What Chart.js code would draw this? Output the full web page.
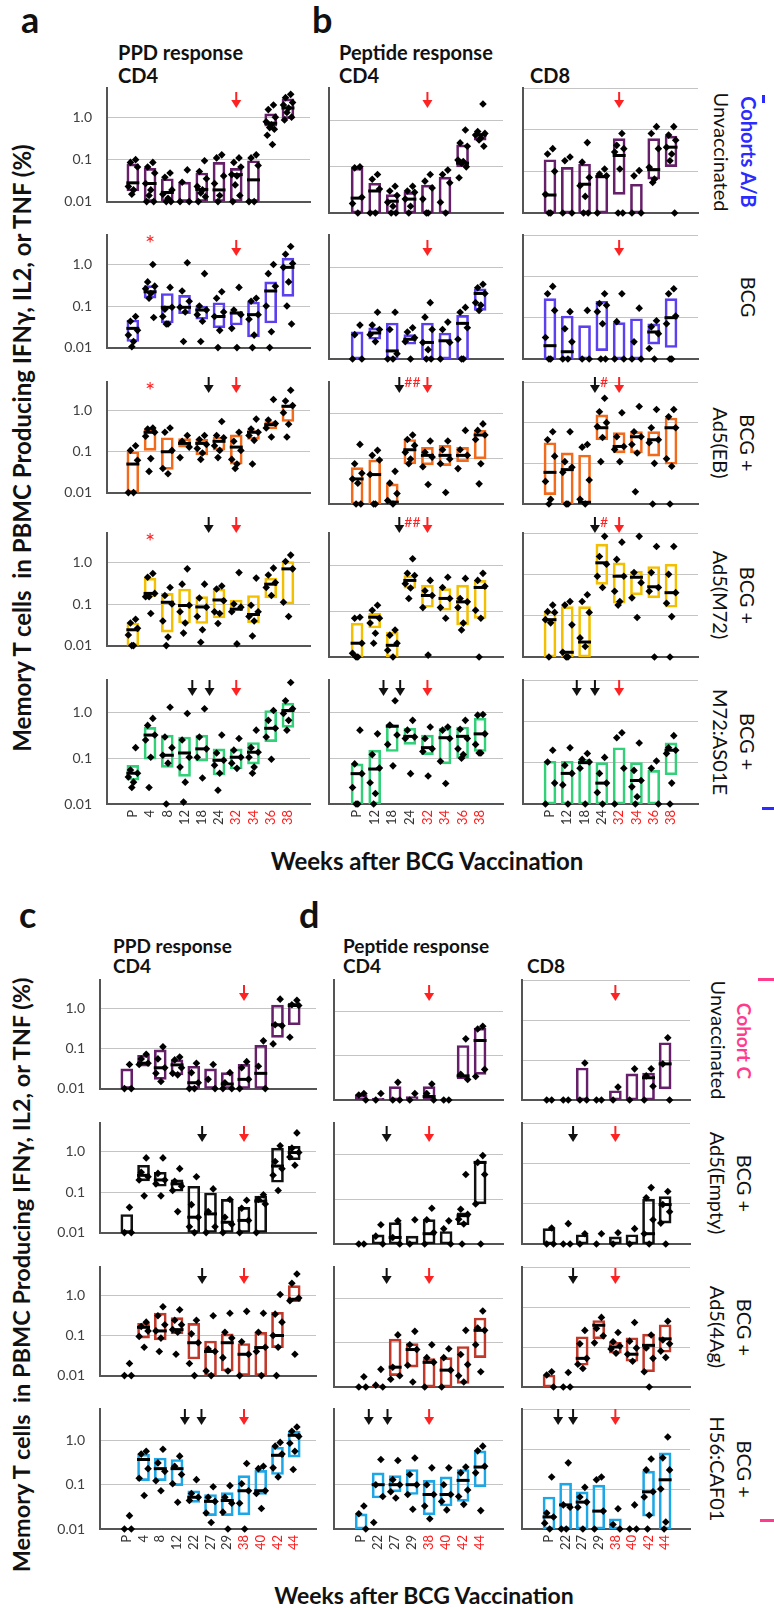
<!DOCTYPE html>
<html>
<head>
<meta charset="utf-8">
<script src="https://cdn.jsdelivr.net/npm/chart.js"></script>
<style>
  body { margin:0; width:774px; height:1608px; position:relative; background:#fff; overflow:hidden; font-family:Lato, sans-serif; color:#111; }
  canvas { position:absolute; }
  .t { position:absolute; white-space:pre; line-height:1; font-weight:bold; }
  .v { position:absolute; writing-mode:vertical-rl; white-space:nowrap; line-height:27px; font-size:20px; text-align:center; transform:translate(-50%,-50%); }
  .c { position:absolute; white-space:pre; line-height:1; font-weight:bold; transform:translate(-50%,-50%); }
  .r { transform:translate(-50%,-50%) rotate(-90deg); }
  .bar { position:absolute; }
</style>
</head>
<body>
<div class="t" style="left:21px;top:1px;font-size:36px">a</div>
<div class="t" style="left:312px;top:1px;font-size:36px">b</div>
<div class="t" style="left:118px;top:42px;font-size:20px">PPD response</div>
<div class="t" style="left:118px;top:65px;font-size:20px">CD4</div>
<div class="t" style="left:339px;top:42px;font-size:20px">Peptide response</div>
<div class="t" style="left:339px;top:65px;font-size:20px">CD4</div>
<div class="t" style="left:530px;top:65px;font-size:20px">CD8</div>

<div class="t" style="left:19px;top:896px;font-size:36px">c</div>
<div class="t" style="left:299px;top:896px;font-size:36px">d</div>
<div class="t" style="left:113px;top:936px;font-size:19px">PPD response</div>
<div class="t" style="left:113px;top:956px;font-size:19px">CD4</div>
<div class="t" style="left:343px;top:936px;font-size:19px">Peptide response</div>
<div class="t" style="left:343px;top:956px;font-size:19px">CD4</div>
<div class="t" style="left:527px;top:956px;font-size:19px">CD8</div>

<div class="c r" style="left:22px;top:448px;font-size:24px">Memory T cells  in PBMC Producing IFNγ, IL2, or TNF (%)</div>
<div class="c r" style="left:22px;top:1275px;font-size:23.5px">Memory T cells  in PBMC Producing IFNγ, IL2, or TNF (%)</div>
<div class="c" style="left:427px;top:861px;font-size:24px">Weeks after BCG Vaccination</div>
<div class="c" style="left:424px;top:1595px;font-size:23px">Weeks after BCG Vaccination</div>

<div class="v" style="left:721px;top:152px">Unvaccinated</div>
<div class="v" style="left:748px;top:152px;color:#2b2bff;font-weight:bold">Cohorts A/B</div>
<div class="v" style="left:748px;top:297px">BCG</div>
<div class="v" style="left:734px;top:443px">BCG +<br>Ad5(EB)</div>
<div class="v" style="left:734px;top:595px">BCG +<br>Ad5(M72)</div>
<div class="v" style="left:734px;top:742px">BCG +<br>M72:AS01E</div>

<div class="v" style="left:718px;top:1040px">Unvaccinated</div>
<div class="v" style="left:744px;top:1041px;color:#ff3b8d;font-weight:bold;font-size:19px">Cohort C</div>
<div class="v" style="left:731px;top:1183px">BCG +<br>Ad5(Empty)</div>
<div class="v" style="left:731px;top:1327px">BCG +<br>Ad5(4Ag)</div>
<div class="v" style="left:731px;top:1469px">BCG +<br>H56:CAF01</div>

<div class="bar" style="left:762px;top:95px;width:3px;height:8px;background:#2b2bff"></div>
<div class="bar" style="left:762px;top:807px;width:12px;height:3px;background:#2b2bff"></div>
<div class="bar" style="left:758px;top:978px;width:16px;height:3px;background:#ff3b8d"></div>
<div class="bar" style="left:760px;top:1519px;width:14px;height:3px;background:#ff3b8d"></div>

<script>
// week labels
const catsAB_ppd = ['P','4','8','12','18','24','32','34','36','38'];
const catsAB_pep = ['P','12','18','24','32','34','36','38'];
const catsCD_ppd = ['P','4','8','12','22','27','29','38','40','42','44'];
const catsCD_pep = ['P','22','27','29','38','40','42','44'];
const redAB = ['32','34','36','38'];
const redCD = ['38','40','42','44'];

// boxes: [low, high, median], one per week; points: values per week
// cohorts A/B, PPD CD4
const A1box=[[0.018,0.079,0.028],[0.01,0.062,0.027],[0.01,0.035,0.0165],[0.01,0.029,null],[0.01,0.048,0.0195],[0.01,0.086,0.019],[0.01,0.062,0.044],[0.01,0.094,0.033],[0.63,1.23,0.74],[0.95,2.8,1.7]];
const A1pts=[[0.1,0.086,0.067,0.023,0.019,0.015],[0.086,0.067,0.048,0.027,0.019,0.014,0.01,0.01],[0.048,0.038,0.019,0.015,0.012,0.01,0.01],[0.057,0.029,0.01,0.01],[0.094,0.052,0.035,0.023,0.019,0.016,0.013,0.01],[0.13,0.11,0.041,0.027,0.014,0.01],[0.11,0.086,0.067,0.044,0.041,0.025,0.014,0.01],[0.13,0.11,0.073,0.01,0.01],[2.0,1.56,1.03,0.8,0.68,0.58,0.53,0.38,0.23],[3.6,3.0,2.3,2.0,1.7,1.33,1.03,0.88]];
const A2box=[[0.014,0.046,0.029],[0.155,0.31,0.22],[0.039,0.2,0.093],[0.065,0.18,0.093],[0.048,0.1,0.08],[0.03,0.12,0.056],[0.035,0.072,0.068],[0.018,0.125,0.062],[0.039,0.38,0.23],[0.17,1.42,0.85]];
const A2pts=[[0.056,0.043,0.026,0.02,0.014,0.0105],[1.0,0.38,0.3,0.26,0.2,0.154,0.053],[0.28,0.084,0.093,0.056,0.037,0.037],[1.1,0.23,0.13,0.093,0.072,0.014],[0.6,0.1,0.08,0.062,0.043,0.014],[0.22,0.154,0.072,0.056,0.026,0.01],[0.28,0.08,0.062,0.029,0.01],[0.154,0.13,0.062,0.048,0.02,0.01],[1.0,0.6,0.3,0.1,0.024,0.01],[2.7,1.75,1.05,0.85,0.38,0.1,0.037]];
const A3box=[[0.01,0.1,0.05],[0.108,0.36,0.3],[0.037,0.22,0.1],[0.13,0.21,0.16],[0.084,0.2,0.16],[0.11,0.23,0.18],[0.05,0.26,0.13],[0.2,0.33,0.3],[0.36,0.55,0.46],[0.55,1.35,1.3]];
const A3pts=[[0.14,0.108,0.062,0.01,0.01],[0.38,0.36,0.3,0.24,0.068,0.033],[0.38,0.3,0.108,0.039,0.029],[0.25,0.18,0.13,0.072],[0.25,0.2,0.15,0.12,0.093,0.065],[0.55,0.25,0.22,0.14,0.108,0.072],[0.3,0.18,0.108,0.065,0.05,0.039],[0.63,0.36,0.3,0.25,0.19,0.05],[1.9,0.6,0.49,0.38,0.23],[3.2,1.75,1.35,0.9,0.47,0.23]];
const A4box=[[0.01,0.035,0.024],[0.15,0.42,0.18],[0.021,0.18,0.11],[0.035,0.23,0.092],[0.034,0.15,0.085],[0.046,0.23,0.125],[0.072,0.125,0.075],[0.035,0.16,0.056],[0.14,0.42,0.3],[0.1,1.05,0.7]];
const A4pts=[[0.043,0.035,0.026,0.018,0.01,0.01],[0.54,0.44,0.18,0.15,0.059,0.15],[0.25,0.16,0.1,0.039,0.016,0.01],[0.7,0.3,0.093,0.065,0.035,0.02],[0.3,0.14,0.084,0.05,0.024,0.012],[0.27,0.23,0.12,0.065,0.059,0.034],[0.57,0.1,0.084,0.065,0.011],[0.42,0.093,0.065,0.05,0.039,0.017],[0.73,0.5,0.33,0.25,0.16],[1.5,1.05,0.7,0.11,0.05]];
const A5box=[[0.033,0.07,0.047],[0.095,0.47,0.32],[0.063,0.32,0.116],[0.04,0.29,0.13],[0.086,0.32,0.16],[0.043,0.16,0.09],[0.058,0.16,0.105],[0.074,0.22,0.135],[0.23,1.1,0.45],[0.47,1.6,1.1]];
const A5pts=[[0.17,0.055,0.047,0.039,0.03,0.023],[0.74,0.52,0.32,0.25,0.105,0.023],[1.3,0.29,0.17,0.116,0.078,0.01],[0.95,0.25,0.105,0.064,0.03,0.011],[1.2,0.29,0.16,0.105,0.037],[0.32,0.13,0.09,0.07,0.047,0.02],[0.27,0.15,0.105,0.078,0.06],[0.41,0.17,0.135,0.105,0.064,0.047],[1.1,0.67,0.45,0.29,0.095],[4.5,1.8,1.2,0.95,0.67,0.41]];

// cohorts A/B, peptide CD4
const B1box=[[0.01,0.093,0.021],[0.01,0.044,0.03],[0.01,0.025,0.018],[0.01,0.028,0.02],[0.01,0.04,null],[0.01,0.06,null],[0.1,0.3,0.12],[0.38,0.53,0.49]];
const B1pts=[[0.1,0.095,0.022,0.016,0.01],[0.068,0.054,0.033,0.01,0.01],[0.038,0.03,0.024,0.017,0.014,0.01,0.01],[0.038,0.03,0.028,0.02,0.014,0.01],[0.068,0.049,0.035,0.02,0.01,0.01],[0.085,0.068,0.045,0.017,0.01],[0.63,0.33,0.28,0.14,0.13,0.12,0.1,0.058],[2.3,0.58,0.53,0.49,0.42,0.38,0.28]];
const B2box=[[0.01,0.039,null],[0.027,0.048,0.037],[0.01,0.061,0.015],[0.021,0.034,0.027],[0.01,0.061,0.023],[0.01,0.037,0.025],[0.01,0.09,0.06],[0.115,0.34,0.27]];
const B2pts=[[0.055,0.034,0.01,0.01],[0.105,0.055,0.044,0.034,0.024],[0.105,0.044,0.013,0.01,0.01],[0.048,0.039,0.029,0.024,0.01],[0.17,0.082,0.044,0.023,0.016,0.01,0.01],[0.064,0.044,0.023,0.01],[0.134,0.105,0.048,0.027,0.01,0.01],[0.43,0.36,0.27,0.17,0.15,0.115]];
const B3box=[[0.01,0.064,0.036],[0.01,0.095,0.045],[0.01,0.028,0.011],[0.078,0.27,0.16],[0.074,0.18,0.12],[0.071,0.2,0.12],[0.087,0.18,0.12],[0.1,0.43,0.34]];
const B3pts=[[0.21,0.078,0.048,0.036,0.029,0.01,0.01],[0.155,0.12,0.095,0.045,0.01,0.01],[0.053,0.029,0.017,0.012,0.01],[0.34,0.27,0.2,0.14,0.1,0.078],[0.25,0.14,0.11,0.067,0.027],[0.25,0.16,0.1,0.078,0.018],[0.43,0.16,0.12,0.061],[0.6,0.43,0.34,0.27,0.078,0.028]];
const B4box=[[0.01,0.055,0.02],[0.043,0.09,0.074],[0.01,0.035,0.018],[0.32,0.6,0.47],[0.122,0.37,0.22],[0.105,0.31,0.19],[0.05,0.37,0.16],[0.07,0.47,0.33]];
const B4pts=[[0.074,0.07,0.02,0.012,0.01,0.01],[0.135,0.105,0.07,0.055,0.033,0.02],[0.039,0.03,0.02,0.014,0.01],[1.4,0.67,0.6,0.4,0.32,0.19],[0.47,0.28,0.22,0.12,0.011],[0.55,0.33,0.19,0.12,0.07],[0.52,0.19,0.16,0.12,0.055,0.039],[0.67,0.47,0.35,0.105,0.07,0.01]];
const B5box=[[0.01,0.075,0.046],[0.01,0.15,0.058],[0.14,0.52,0.5],[0.2,0.45,0.3],[0.12,0.32,0.17],[0.075,0.45,0.28],[0.1,0.48,0.3],[0.14,0.75,0.34]];
const B5pts=[[0.41,0.075,0.046,0.023,0.01,0.01],[0.34,0.12,0.061,0.029,0.017,0.01],[1.8,0.53,0.32,0.2,0.068],[0.67,0.41,0.29,0.27,0.046],[0.48,0.27,0.16,0.14,0.041],[0.48,0.41,0.27,0.086,0.028],[0.67,0.43,0.27,0.16,0.12,0.1],[0.9,0.87,0.34,0.2,0.13,0.13]];

// cohorts A/B, peptide CD8
const C1box=[[0.01,0.19,0.027],[0.01,0.125,null],[0.01,0.15,0.049],[0.01,0.078,0.075],[0.028,0.61,0.24],[0.01,0.049,null],[0.065,0.61,0.11],[0.13,0.7,0.38]];
const C1pts=[[0.35,0.26,0.1,0.028,0.01,0.01],[0.22,0.18,0.01,0.01],[0.49,0.166,0.071,0.045,0.025,0.01,0.01],[0.114,0.086,0.078,0.01],[0.81,0.42,0.35,0.29,0.114,0.01,0.01],[0.104,0.078,0.01,0.01],[1.18,0.81,0.35,0.125,0.065,0.054],[1.18,0.74,0.56,0.38,0.26,0.18,0.01]];
const C2box=[[0.01,0.29,0.021],[0.01,0.11,0.015],[0.01,0.064,null],[0.016,0.25,null],[0.01,0.076,null],[0.01,0.094,null],[0.023,0.071,0.045],[0.019,0.29,0.1]];
const C2pts=[[0.57,0.38,0.15,0.033,0.01,0.01],[0.14,0.054,0.026,0.01,0.01],[0.15,0.01,0.01],[0.38,0.22,0.2,0.14,0.071,0.01,0.01],[0.38,0.08,0.01,0.01],[0.17,0.026,0.01,0.01],[0.084,0.06,0.041,0.018,0.01],[0.5,0.38,0.11,0.071,0.01,0.01]];
const C3box=[[0.017,0.32,0.06],[0.01,0.18,0.07],[0.01,0.16,0.011],[0.38,1.55,0.75],[0.18,0.57,0.26],[0.18,0.6,0.45],[0.15,0.6,0.38],[0.095,1.3,0.75]];
const C3pts=[[0.6,0.38,0.15,0.036,0.013,0.01],[0.6,0.11,0.08,0.06,0.01,0.01],[0.29,0.25,0.039,0.013,0.01],[4.0,1.85,1.0,0.8,0.43,0.11],[1.75,0.45,0.26,0.22,0.11],[2.5,0.6,0.45,0.29,0.18,0.02],[2.1,0.75,0.38,0.32,0.1,0.01],[2.1,1.4,0.75,0.13,0.085,0.01]];
const C4box=[[0.01,0.125,0.08],[0.01,0.165,0.013],[0.01,0.165,0.023],[0.57,5.4,1.9],[0.2,1.9,0.9],[0.32,1.2,0.85],[0.27,1.55,0.5],[0.16,1.75,0.36]];
const C4pts=[[0.18,0.125,0.12,0.08,0.067,0.01],[0.22,0.18,0.06,0.013,0.01,0.01],[0.32,0.22,0.12,0.029,0.018],[8.3,2.7,1.75,0.9,0.48],[6.0,2.3,0.9,0.39,0.22,0.18],[8.3,1.1,0.63,0.27,0.09],[4.7,1.1,0.48,0.39,0.01],[4.7,1.0,0.36,0.2,0.095,0.01]];
const C5box=[[0.01,0.108,null],[0.01,0.108,0.055],[0.01,0.12,0.1],[0.01,0.1,0.032],[0.01,0.23,null],[0.01,0.1,0.037],[0.01,0.065,null],[0.051,0.3,0.2]];
const C5pts=[[0.2,0.104,0.032,0.01],[0.23,0.086,0.055,0.029,0.01],[0.167,0.12,0.104,0.073,0.01],[0.134,0.055,0.032,0.019,0.01],[0.53,0.4,0.073,0.01],[0.3,0.065,0.037,0.026,0.015,0.01],[0.11,0.073,0.01],[0.45,0.23,0.2,0.167,0.032,0.01]];

// cohort C, PPD CD4
const D1box=[[0.01,0.031,null],[0.036,0.068,0.043],[0.017,0.092,0.033],[0.022,0.052,0.039],[0.01,0.036,0.014],[0.01,0.031,null],[0.01,0.025,0.013],[0.01,0.04,0.017],[0.01,0.12,0.024],[0.19,1.2,0.39],[0.39,1.35,1.18]];
const D1pts=[[0.04,0.01,0.01],[0.072,0.055,0.043,0.04],[0.11,0.055,0.033,0.024,0.015],[0.061,0.052,0.033,0.024,0.022],[0.043,0.025,0.014,0.01,0.01],[0.04,0.017,0.01],[0.025,0.014,0.01,0.01],[0.047,0.033,0.017,0.01],[0.155,0.036,0.01],[1.7,0.39,0.37,0.13],[1.6,1.23,1.18,0.19]];
const D2box=[[0.01,0.028,null],[0.19,0.46,0.26],[0.14,0.31,0.2],[0.105,0.2,0.16],[0.01,0.14,0.024],[0.01,0.095,0.029],[0.01,0.066,0.018],[0.01,0.042,0.02],[0.01,0.08,0.06],[0.175,1.22,0.44],[0.63,1.35,0.95]];
const D2pts=[[0.042,0.01,0.01],[0.7,0.31,0.24,0.2,0.081],[0.7,0.29,0.2,0.16,0.081],[0.38,0.185,0.14,0.11,0.033],[0.24,0.049,0.024,0.014,0.01],[0.12,0.033,0.014,0.01],[0.066,0.024,0.016,0.01],[0.063,0.04,0.02,0.01],[0.086,0.066,0.051,0.01],[1.4,0.57,0.38,0.26,0.11],[2.9,1.22,0.95,0.74,0.46]];
const D3box=[null,[0.086,0.2,0.16],[0.077,0.36,0.13],[0.11,0.28,0.14],[0.026,0.2,0.066],[0.01,0.073,0.04],[0.013,0.11,0.066],[0.01,0.063,0.034],[0.01,0.12,0.05],[0.05,0.38,0.1],[0.7,1.75,0.8]];
const D3pts=[[0.02,0.01,0.01],[0.215,0.167,0.13,0.095,0.051],[0.52,0.31,0.185,0.13,0.086,0.04],[0.44,0.24,0.185,0.14,0.12,0.034],[0.24,0.11,0.066,0.02,0.01],[0.31,0.046,0.04,0.013,0.01],[0.36,0.12,0.086,0.028,0.013],[0.4,0.07,0.034,0.01],[0.36,0.12,0.051,0.04,0.01],[1.05,0.34,0.215,0.1,0.051,0.01],[3.4,2.0,0.86,0.74,0.034]];
const D4box=[null,[0.123,0.49,0.37],[0.123,0.4,0.23],[0.095,0.37,0.23],[0.04,0.073,0.052],[0.02,0.06,0.042],[0.02,0.066,0.044],[0.021,0.16,0.073],[0.06,0.21,0.073],[0.17,0.7,0.46],[0.42,1.6,1.3]];
const D4pts=[[0.02,0.01,0.01],[0.57,0.49,0.23,0.14,0.057],[0.63,0.31,0.2,0.123,0.073],[0.44,0.26,0.17,0.105,0.04],[0.13,0.063,0.052,0.044],[0.09,0.052,0.042,0.023,0.014],[0.095,0.052,0.038,0.024,0.01],[0.3,0.105,0.073,0.038,0.01],[0.26,0.23,0.073,0.063,0.029],[0.9,0.74,0.49,0.24,0.15],[2.0,1.6,1.23,0.86,0.57,0.22]];

// cohort C, peptide CD4
const E1box=[[0.01,0.013,null],[0.01,0.011,null],[0.01,0.02,null],[0.01,0.012,null],[0.01,0.02,0.012],null,[0.03,0.17,0.035],[0.038,0.42,0.22]];
const E1pts=[[0.014,0.013,0.01],[0.014,0.01],[0.025,0.01,0.01],[0.014,0.01],[0.023,0.014,0.01],[0.01,0.01],[0.24,0.038,0.029],[0.46,0.4,0.049,0.034]];
const E2box=[null,[0.01,0.016,null],[0.01,0.03,0.014],[0.01,0.015,null],[0.01,0.035,0.017],[0.01,0.019,null],[0.027,0.05,0.043],[0.079,0.7,0.67]];
const E2pts=[[0.01,0.01],[0.027,0.015,0.01],[0.033,0.014,0.01],[0.035,0.01],[0.063,0.035,0.018,0.01],[0.033,0.022,0.01],[0.36,0.06,0.046,0.036,0.028,0.01],[0.95,0.67,0.36,0.079,0.01]];
const E3box=[null,[0.01,0.011,null],[0.018,0.12,0.028],[0.028,0.095,0.07],[0.01,0.044,0.036],[0.01,0.046,0.024],[0.012,0.082,null],[0.046,0.36,0.19]];
const E3pts=[[0.017,0.01,0.01],[0.025,0.011,0.01],[0.15,0.028,0.018,0.015],[0.18,0.09,0.07,0.031,0.013],[0.09,0.046,0.036,0.01],[0.073,0.046,0.024,0.01],[0.19,0.054,0.032,0.018,0.013],[0.52,0.215,0.19,0.09,0.022]];
const E4box=[[0.01,0.022,null],[0.05,0.185,0.1],[0.069,0.16,0.1],[0.06,0.22,0.1],[0.021,0.125,0.06],[0.033,0.15,0.06],[0.042,0.22,0.125],[0.089,0.58,0.25]];
const E4pts=[[0.033,0.022,0.01],[0.37,0.1,0.054,0.014],[0.35,0.13,0.1,0.069,0.05],[0.4,0.17,0.1,0.06,0.028],[0.24,0.1,0.06,0.033,0.017],[0.24,0.1,0.06,0.042,0.027],[0.25,0.185,0.076,0.054,0.036],[0.74,0.58,0.26,0.185,0.026]];

// cohort C, peptide CD8
const F1box=[null,null,[0.01,0.063,null],null,[0.01,0.017,null],[0.01,0.045,null],[0.01,0.047,0.036],[0.019,0.27,0.08]];
const F1pts=[[0.01,0.01],[0.01,0.01],[0.084,0.01,0.01],[0.01,0.01],[0.021,0.01],[0.06,0.01],[0.06,0.04,0.022,0.01],[0.36,0.08,0.01]];
const F2box=[[0.01,0.024,null],null,[0.01,0.017,null],null,[0.01,0.015,null],[0.01,0.017,null],[0.01,0.13,0.018],[0.033,0.15,0.095]];
const F2pts=[[0.025,0.01,0.01],[0.032,0.01,0.01],[0.018,0.01],[0.018,0.01],[0.019,0.01],[0.024,0.01],[0.25,0.14,0.04,0.018,0.01],[0.2,0.095,0.063,0.033,0.01]];
const F3box=[[0.01,0.02,null],null,[0.035,0.18,0.052],[0.16,0.46,0.35],[0.07,0.13,0.1],[0.044,0.17,0.066],[0.024,0.21,0.11],[0.074,0.36,0.16]];
const F3pts=[[0.024,0.02,0.01],[0.023,0.01,0.01],[0.26,0.12,0.052,0.037,0.029],[0.55,0.29,0.19,0.127],[0.23,0.135,0.106,0.089,0.07],[0.41,0.14,0.094,0.066,0.044],[0.2,0.094,0.052,0.024,0.01],[0.44,0.15,0.12,0.079,0.055]];
const F4box=[[0.01,0.063,0.02],[0.01,0.14,0.04],[0.01,0.085,0.047],[0.01,0.125,0.028],[0.01,0.018,null],null,[0.021,0.28,0.085],[0.01,0.8,0.17]];
const F4pts=[[0.2,0.025,0.02,0.014,0.01],[0.45,0.04,0.035,0.01,0.01],[0.11,0.063,0.047,0.035,0.01],[0.2,0.17,0.028,0.01],[0.032,0.013,0.01],[0.04,0.01,0.01],[0.56,0.3,0.085,0.063,0.022,0.01],[2.0,0.6,0.3,0.1,0.015,0.01]];

// vaccination arrows (position in week slots, k = boost, r = challenge), per row: [PPD, CD4, CD8]
const arrowsAB = [
  [[[6,'r']],[[4,'r']],[[4,'r']]],
  [[[6,'r']],[[4,'r']],[[4,'r']]],
  [[[4.4,'k'],[6,'r']],[[2.4,'k'],[4,'r']],[[2.6,'k'],[4,'r']]],
  [[[4.4,'k'],[6,'r']],[[2.4,'k'],[4,'r']],[[2.6,'k'],[4,'r']]],
  [[[3.45,'k'],[4.45,'k'],[6,'r']],[[1.5,'k'],[2.45,'k'],[4,'r']],[[1.55,'k'],[2.6,'k'],[4,'r']]]
];
const arrowsCD = [
  [[[7,'r']],[[4,'r']],[[4,'r']]],
  [[[4.5,'k'],[7,'r']],[[1.5,'k'],[4,'r']],[[1.45,'k'],[4,'r']]],
  [[[4.5,'k'],[7,'r']],[[1.5,'k'],[4,'r']],[[1.45,'k'],[4,'r']]],
  [[[3.47,'k'],[4.46,'k'],[7,'r']],[[0.45,'k'],[1.55,'k'],[4,'r']],[[0.55,'k'],[1.45,'k'],[4,'r']]]
];
const starsAB = [null, 1, 1, 1, null];
const hashAB = [null, null, [null,'##','#'], [null,'##','#'], null];

Chart.defaults.font.family = 'Lato, sans-serif';
const jit = [0.16,-0.14,0.27,-0.26,0.04,-0.06,0.21,-0.2,0.1];

function drawArrow(ctx, x, y, col) {
  ctx.strokeStyle = col; ctx.fillStyle = col; ctx.lineWidth = 2;
  ctx.beginPath(); ctx.moveTo(x, y); ctx.lineTo(x, y + 9); ctx.stroke();
  ctx.beginPath(); ctx.moveTo(x - 5, y + 8); ctx.lineTo(x + 5, y + 8); ctx.lineTo(x, y + 16); ctx.closePath(); ctx.fill();
}

function panel(p) {
  const YW = 50, PR = 10, PT = 26, XH = p.xlab ? 44 : 12;
  const cv = document.createElement('canvas');
  cv.width = p.rx - p.ax + YW + PR;
  cv.height = p.by - p.ty + PT + XH;
  cv.style.left = (p.ax - YW) + 'px';
  cv.style.top = (p.ty - PT) + 'px';
  document.body.appendChild(cv);

  const bars = [], meds = [], dots = [];
  p.box.forEach((b, i) => {
    if (!b) return;
    bars.push({x: i, y: [b[0], b[1]]});
    if (b[2] != null) meds.push({x: i, y: b[2]});
  });
  p.pts.forEach((a, i) => a.forEach((v, k) => dots.push({x: i + jit[k % jit.length], y: v})));

  const ann = {
    id: 'ann',
    afterDraw(c) {
      const ctx = c.ctx, xs = c.scales.x, y0 = c.chartArea.top + p.at;
      ctx.save();
      p.arrows.forEach(([x, k]) => drawArrow(ctx, xs.getPixelForValue(x), y0, k === 'r' ? '#ff2222' : '#111'));
      if (p.hash) {
        ctx.fillStyle = '#ff2222'; ctx.font = '14px Lato'; ctx.textAlign = 'left'; ctx.textBaseline = 'top';
        ctx.fillText(p.hash, xs.getPixelForValue(p.arrows[0][0]) + 5, y0 - 2);
      }
      if (p.star != null) {
        ctx.fillStyle = '#ff2222'; ctx.font = '24px Lato'; ctx.textAlign = 'center'; ctx.textBaseline = 'top';
        ctx.fillText('*', xs.getPixelForValue(p.star), c.chartArea.top - 3);
      }
      ctx.restore();
    }
  };

  new Chart(cv, {
    type: 'bar',
    data: {datasets: [
      {type: 'scatter', data: dots, pointStyle: 'rectRot', pointRadius: 3.8, pointHoverRadius: 3.8,
       backgroundColor: '#000', borderColor: '#000', borderWidth: 0, clip: false},
      {type: 'scatter', data: meds, pointStyle: 'line', pointRadius: 6.5, pointHoverRadius: 6.5,
       borderColor: '#000', borderWidth: 3, clip: false},
      {type: 'bar', data: bars, backgroundColor: 'rgba(0,0,0,0)', borderColor: p.color,
       borderWidth: 2, borderSkipped: false, barThickness: 12}
    ]},
    options: {
      responsive: false, animation: false, devicePixelRatio: 1, events: [],
      layout: {padding: {top: PT, right: PR, left: 0, bottom: 0}},
      plugins: {legend: {display: false}, tooltip: {enabled: false}},
      scales: {
        x: {
          type: 'linear', min: p.xmin, max: p.xmax, offset: false,
          grid: {display: false, drawTicks: false},
          border: {color: '#555', width: 2},
          afterBuildTicks: s => { s.ticks = p.cats.map((c, i) => ({value: i})); },
          ticks: {
            display: p.xlab, autoSkip: false, minRotation: 90, maxRotation: 90, padding: 6,
            font: {size: 13},
            color: ctx => p.red.includes(p.cats[ctx.index]) ? '#ff1a1a' : '#333',
            callback: v => p.cats[v]
          },
          afterFit: s => { s.height = XH; }
        },
        y: {
          type: 'logarithmic', min: 0.01, max: p.ymax, beginAtZero: false,
          grid: {color: '#c4c4c4', lineWidth: 1, drawTicks: false},
          border: {color: '#555', width: 2},
          afterBuildTicks: s => { s.ticks = p.yt.map(v => ({value: v})); },
          ticks: {
            display: p.ylab, padding: 15, font: {size: 14}, color: '#404040',
            callback: v => v === 1 ? '1.0' : String(v)
          },
          afterFit: s => { s.width = YW; }
        }
      }
    },
    plugins: [ann]
  });
}

function group(rows, cols, cats, red, boxes, pts, colors, arrows, at, stars, hashes) {
  rows.forEach((r, ri) => cols.forEach((c, ci) => {
    panel({
      ax: c[0], rx: c[1], xmin: c[2], xmax: c[3], ty: r[0], by: r[1],
      cats: cats[ci], red: red, box: boxes[ri][ci], pts: pts[ri][ci], color: colors[ri],
      ymax: ci === 2 ? 10 : 5.1, yt: ci === 2 ? [0.01, 0.1, 1, 10] : [0.01, 0.1, 1],
      ylab: ci === 0, xlab: ri === rows.length - 1,
      arrows: arrows[ri][ci], at: at[ri],
      star: (ci === 0 && stars) ? stars[ri] : null,
      hash: (hashes && hashes[ri]) ? hashes[ri][ci] : null
    });
  }));
}

group(
  [[88,213],[235,359],[382,504],[533,657],[680,804]],
  [[107,310,-1.5,10.28],[329,503,-1.6,8.3],[523,698,-1.56,8.56]],
  [catsAB_ppd, catsAB_pep, catsAB_pep], redAB,
  [[A1box,B1box,C1box],[A2box,B2box,C2box],[A3box,B3box,C3box],[A4box,B4box,C4box],[A5box,B5box,C5box]],
  [[A1pts,B1pts,C1pts],[A2pts,B2pts,C2pts],[A3pts,B3pts,C3pts],[A4pts,B4pts,C4pts],[A5pts,B5pts,C5pts]],
  ['#66206a','#5b40ef','#f26a1b','#f2c000','#33d07a'],
  arrowsAB, [4,5,-5,-16,0], starsAB, hashAB
);

group(
  [[980,1100],[1123,1244],[1267,1387],[1409,1529]],
  [[100,316,-1.6,11.3],[334,503,-1.6,8.35],[522,690,-1.63,8.5]],
  [catsCD_ppd, catsCD_pep, catsCD_pep], redCD,
  [[D1box,E1box,F1box],[D2box,E2box,F2box],[D3box,E3box,F3box],[D4box,E4box,F4box]],
  [[D1pts,E1pts,F1pts],[D2pts,E2pts,F2pts],[D3pts,E3pts,F3pts],[D4pts,E4pts,F4pts]],
  ['#66206a','#111111','#c0392b','#1ea7e6'],
  arrowsCD, [5,3,1,0], null, null
);
</script>
</body>
</html>
